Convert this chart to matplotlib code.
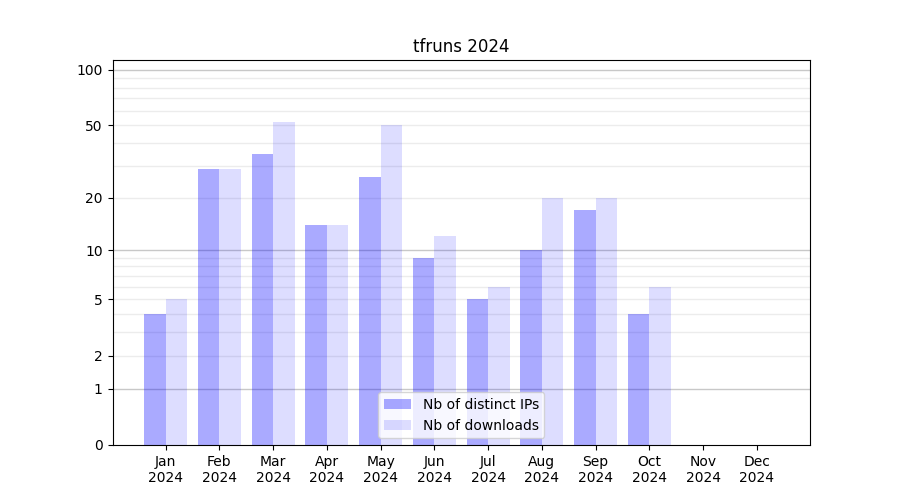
import numpy as np
import matplotlib
matplotlib.use("Agg")
import matplotlib.pyplot as plt

months = ["Jan\n2024", "Feb\n2024", "Mar\n2024", "Apr\n2024", "May\n2024", "Jun\n2024",
          "Jul\n2024", "Aug\n2024", "Sep\n2024", "Oct\n2024", "Nov\n2024", "Dec\n2024"]
ips = [4, 29, 35, 14, 26, 9, 5, 10, 17, 4, 0, 0]
downloads = [5, 29, 52, 14, 50, 12, 6, 20, 20, 6, 0, 0]
yticks = [0, 1, 2, 5, 10, 20, 50, 100]

fig, ax = plt.subplots(figsize=(9, 5), dpi=100)
ax.set_yscale('function', functions=(lambda v: np.log10(np.maximum(v, -0.999) + 1),
                                     lambda v: 10 ** v - 1))
x = np.arange(len(months))
w = 0.4
ax.bar(x - w / 2, ips, width=w, color='blue', alpha=1/3, label='Nb of distinct IPs', zorder=2)
ax.bar(x + w / 2, downloads, width=w, color='blue', alpha=0.133, label='Nb of downloads', zorder=2)

for v in [1, 10, 100]:
    ax.axhline(v, color='#c8c8c8', lw=1, zorder=1)
for v in list(range(2, 10)) + list(range(20, 100, 10)):
    ax.axhline(v, color='#ececec', lw=1, zorder=1)

ax.set_yticks(yticks)
ax.set_yticklabels([str(t) for t in yticks])
ax.yaxis.set_minor_locator(matplotlib.ticker.NullLocator())
ax.set_ylim(0, 113)
ax.set_xticks(x)
ax.set_xticklabels(months)
ax.set_title('tfruns 2024')
ax.legend(loc='lower center')
fig.savefig('out.png')
